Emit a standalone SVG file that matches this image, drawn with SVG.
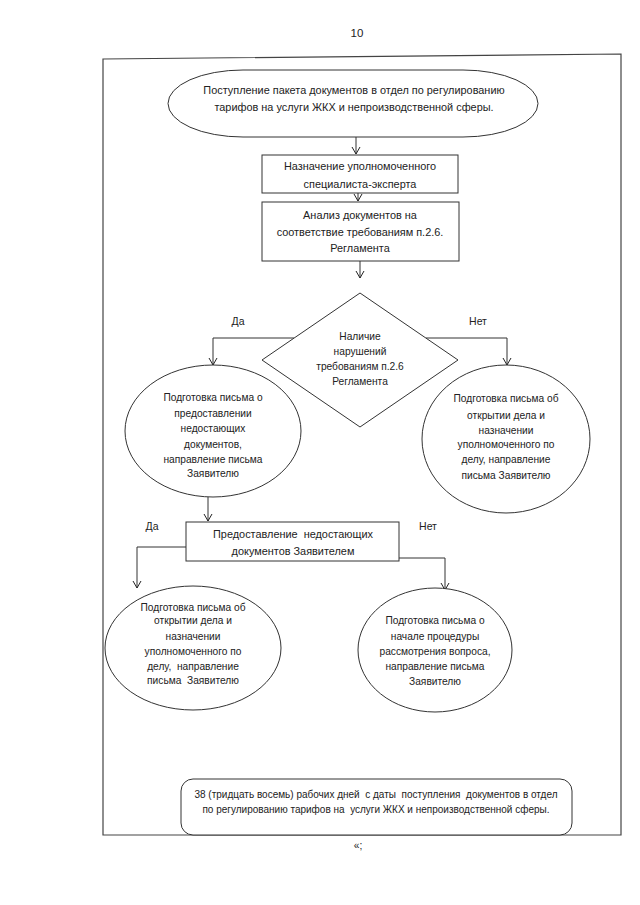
<svg xmlns="http://www.w3.org/2000/svg" width="640" height="905" viewBox="0 0 640 905">
<style>
text{font-family:"Liberation Sans",Arial,sans-serif;font-size:10.2px;fill:#222;text-anchor:middle;white-space:pre}
.b{font-size:10.9px}
.s{fill:#fff;stroke:#333;stroke-width:1}
.c{fill:none;stroke:#333;stroke-width:1}
.lbl{font-size:10.5px}
</style>
<defs>
<marker id="a" markerWidth="10" markerHeight="10" refX="8" refY="5" orient="auto" markerUnits="userSpaceOnUse">
<path d="M1,1 L8,5 L1,9" fill="none" stroke="#222" stroke-width="1"/>
</marker>
</defs>
<rect width="640" height="905" fill="#fff"/>
<text x="357" y="37" style="font-size:11.5px">10</text>
<path id="frame" d="M103,59 L621,54 L621,835 L103,835 Z" fill="none" stroke="#444" stroke-width="1.2"/>

<g id="connectors">
<line class="c" x1="356" y1="137" x2="356" y2="154" marker-end="url(#a)"/>
<line class="c" x1="358" y1="193" x2="358" y2="201" marker-end="url(#a)"/>
<line class="c" x1="360" y1="261" x2="360" y2="278" marker-end="url(#a)"/>
<polyline class="c" points="294,338 213,338 213,365" marker-end="url(#a)"/>
<polyline class="c" points="426,338 507,338 507,365" marker-end="url(#a)"/>
<line class="c" x1="208" y1="497" x2="208" y2="521" marker-end="url(#a)"/>
<polyline class="c" points="186,547 137,547 137,588" marker-end="url(#a)"/>
<polyline class="c" points="399,558 445,558 445,590" marker-end="url(#a)"/>
<text class="lbl" x="238" y="325">Да</text>
<text class="lbl" x="478" y="325">Нет</text>
<text class="lbl" x="152" y="530">Да</text>
<text class="lbl" x="428" y="530">Нет</text>
</g>

<g id="start">
<rect class="s" x="168" y="70" width="370" height="67" rx="75" ry="33.5"/>
<text class="b" x="354" y="94">Поступление пакета документов в отдел по регулированию</text>
<text class="b" x="354" y="111">тарифов на услуги ЖКХ и непроизводственной сферы.</text>
</g>

<g id="assign">
<rect class="s" x="262" y="155" width="196" height="38"/>
<text class="b" x="360" y="170">Назначение уполномоченного</text>
<text class="b" x="360" y="188">специалиста-эксперта</text>
</g>

<g id="analysis">
<rect class="s" x="262" y="202" width="197" height="59"/>
<text class="b" x="360" y="219">Анализ документов на</text>
<text class="b" x="360" y="236">соответствие требованиям п.2.6.</text>
<text class="b" x="360" y="252">Регламента</text>
</g>

<g id="decision">
<polygon class="s" points="360,293 458,360 360,427 262,360"/>
<text x="360" y="340">Наличие</text>
<text x="360" y="355">нарушений</text>
<text x="360" y="370">требованиям п.2.6</text>
<text x="360" y="385">Регламента</text>
</g>

<g id="letter-missing">
<ellipse class="s" cx="213" cy="431" rx="88" ry="66"/>
<text x="213" y="401">Подготовка письма о</text>
<text x="213" y="417">предоставлении</text>
<text x="213" y="432">недостающих</text>
<text x="213" y="448">документов,</text>
<text x="213" y="463">направление письма</text>
<text x="213" y="477">Заявителю</text>
</g>

<g id="letter-open-1">
<ellipse class="s" cx="506" cy="439" rx="84" ry="74"/>
<text x="506" y="402">Подготовка письма об</text>
<text x="506" y="419">открытии дела и</text>
<text x="506" y="434">назначении</text>
<text x="506" y="448">уполномоченного по</text>
<text x="506" y="463">делу, направление</text>
<text x="506" y="479">письма Заявителю</text>
</g>

<g id="provide">
<rect class="s" x="186" y="522" width="213" height="39"/>
<text class="b" x="293" y="538">Предоставление  недостающих</text>
<text class="b" x="293" y="555">документов Заявителем</text>
</g>

<g id="letter-open-2">
<ellipse class="s" cx="193" cy="648" rx="88" ry="62"/>
<text x="193" y="611">Подготовка письма об</text>
<text x="193" y="624">открытии дела и</text>
<text x="193" y="640">назначении</text>
<text x="193" y="655">уполномоченного по</text>
<text x="193" y="670">делу,  направление</text>
<text x="193" y="684">письма  Заявителю</text>
</g>

<g id="letter-start">
<ellipse class="s" cx="435" cy="650" rx="77" ry="62"/>
<text x="435" y="624">Подготовка письма о</text>
<text x="435" y="640">начале процедуры</text>
<text x="435" y="655">рассмотрения вопроса,</text>
<text x="435" y="670">направление письма</text>
<text x="435" y="685">Заявителю</text>
</g>

<g id="term">
<rect class="s" x="181" y="779" width="391" height="56" rx="12" ry="12"/>
<text x="376" y="798" style="font-size:10px">38 (тридцать восемь) рабочих дней  с даты  поступления  документов в отдел</text>
<text x="376" y="813" style="font-size:10px">по регулированию тарифов на  услуги ЖКХ и непроизводственной сферы.</text>
</g>

<text x="358" y="849">«;</text>
</svg>
